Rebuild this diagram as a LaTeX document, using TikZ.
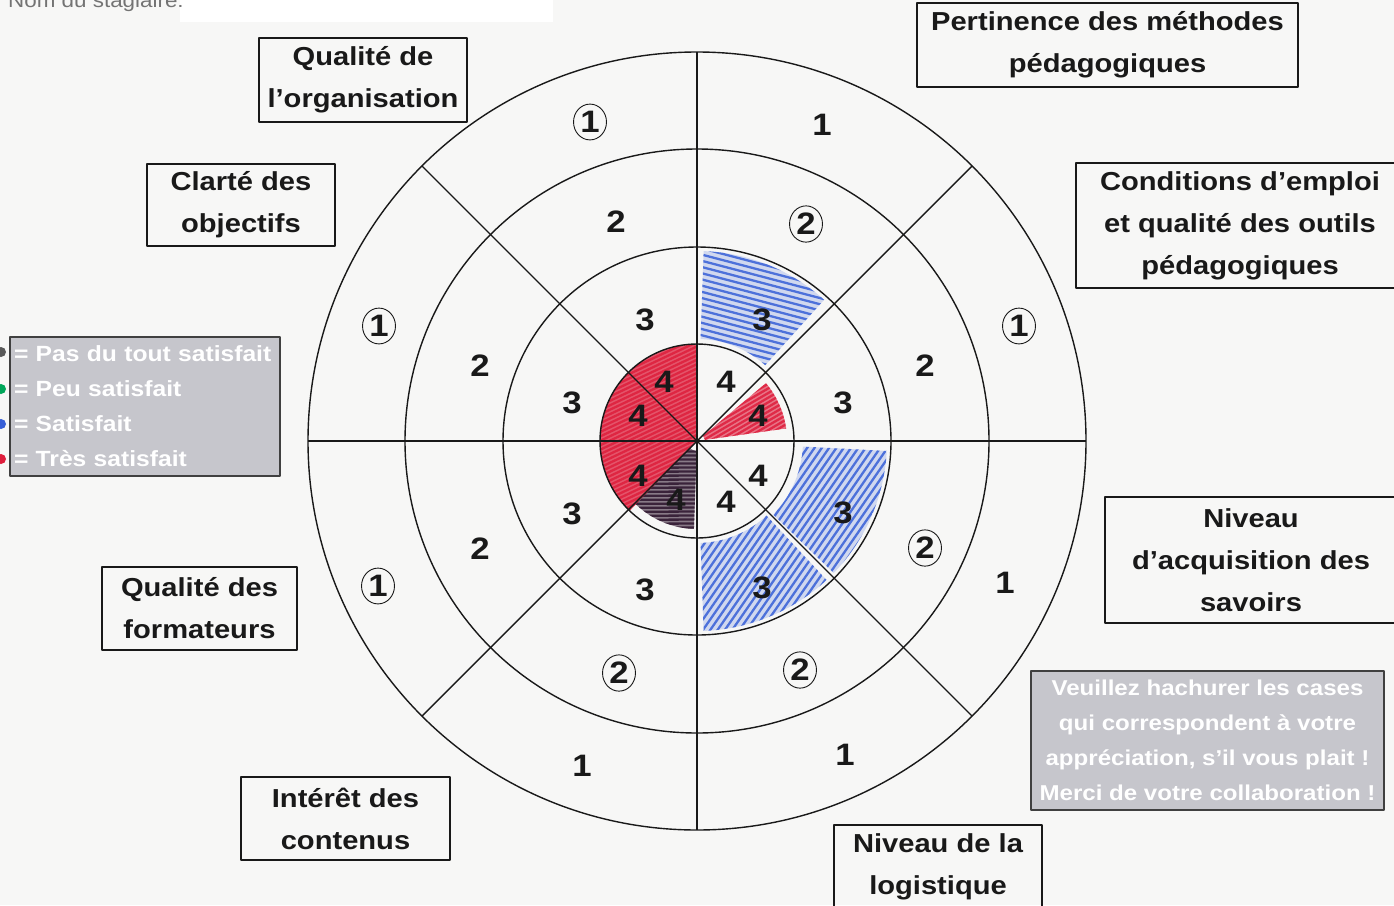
\documentclass[tikz,border=0pt]{standalone}
\usepackage{fontspec}
\usetikzlibrary{shapes.geometric}
\setmainfont{Liberation Sans}[FakeStretch=1.12]
\definecolor{bg}{RGB}{247,247,246}
\definecolor{boxgray}{RGB}{198,198,204}
\definecolor{hred}{RGB}{222,30,60}
\definecolor{hblue}{RGB}{55,95,215}
\definecolor{hdark}{RGB}{45,20,45}
\definecolor{ink}{RGB}{25,25,25}
% #1 inner r, #2 outer r, #3 start angle, #4 end angle, #5 colour, #6 stroke angle, #7 spacing, #8 fill opacity
\newcommand\hatchsec[8]{%
  \begin{scope}
    \clip (#3:#1) arc[start angle=#3,end angle=#4,radius=#1] -- (#4:#2)
          arc[start angle=#4,end angle=#3,radius=#2] -- cycle;
    \fill[#5,opacity=#8] (-400,-400) rectangle (400,400);
    \begin{scope}[rotate=#6]
      \foreach \i in {0,...,100}
        \draw[#5,line width=2.3pt,opacity=.85] (-300,{-300+\i*#7}) -- (300,{-297+\i*#7});
    \end{scope}
  \end{scope}}
\begin{document}
\begin{tikzpicture}[x=1pt,y=-1pt,line join=round,
  wheel/.style={draw=ink,line width=1.4pt},
  lab/.style={draw=ink,line width=1.3pt,align=center,text=ink,
    font=\fontsize{26}{42}\selectfont\bfseries,inner sep=0pt},
  num/.style={text=ink,font=\fontsize{31}{31}\selectfont\bfseries,inner sep=1pt},
  cnum/.style={num,draw=ink,ellipse,line width=0.9pt,inner sep=2pt},
  graybox/.style={fill=boxgray,draw=black!75,line width=1.3pt,text=white,
    font=\fontsize{22}{35}\selectfont\bfseries,inner sep=0pt}]
\fill[bg] (0,0) rectangle (1394,905);
\useasboundingbox (0,0) rectangle (1394,905);
% name field
\fill[white] (180,0) rectangle (553,22);
\node[anchor=base west,text=black!55,font=\fontsize{20}{20}\selectfont,inner sep=0pt] (nom) at (8,7) {Nom du stagiaire:};
% wheel
\begin{scope}[shift={(697,441)},y=1pt]
  \hatchsec{0.1}{97}{90}{226}{hred}{25}{4}{.75}
  \hatchsec{8}{90}{8}{40}{hred}{30}{4}{.6}
  \hatchsec{10}{88}{226}{268}{hdark}{0}{4}{.55}
  \hatchsec{102}{190}{48}{88}{hblue}{-15}{6}{.2}
  \hatchsec{106}{190}{-44}{-3}{hblue}{55}{6}{.2}
  \hatchsec{102}{190}{-88}{-47}{hblue}{55}{6}{.2}
  \draw[wheel] (0,0) circle[radius=97];
  \draw[wheel] (0,0) circle[radius=194];
  \draw[wheel] (0,0) circle[radius=292];
  \draw[wheel] (0,0) circle[radius=389];
  \foreach \a in {0,45,90,135}
    \draw[wheel] (\a:389) -- ({\a+180}:389);
\end{scope}
% ring 1
\node[cnum] (a1) at (590,122) {1};
\node[num]  (b1) at (822,125) {1};
\node[cnum] (c1) at (1019,326) {1};
\node[num]  (d1) at (1005,583) {1};
\node[num]  (e1) at (845,755) {1};
\node[num]  (f1) at (582,766) {1};
\node[cnum] (g1) at (378,586) {1};
\node[cnum] (h1) at (379,326) {1};
% ring 2
\node[num]  (a2) at (616,222) {2};
\node[cnum] (b2) at (806,224) {2};
\node[num]  (c2) at (925,366) {2};
\node[cnum] (d2) at (925,548) {2};
\node[cnum] (e2) at (800,670) {2};
\node[cnum] (f2) at (619,673) {2};
\node[num]  (g2) at (480,549) {2};
\node[num]  (h2) at (480,366) {2};
% ring 3
\node[num] (a3) at (645,320) {3};
\node[num] (b3) at (762,320) {3};
\node[num] (c3) at (843,403) {3};
\node[num] (d3) at (843,513) {3};
\node[num] (e3) at (762,588) {3};
\node[num] (f3) at (645,590) {3};
\node[num] (g3) at (572,514) {3};
\node[num] (h3) at (572,403) {3};
% ring 4
\node[num] (a4) at (664,382) {4};
\node[num] (b4) at (726,382) {4};
\node[num] (c4) at (758,416) {4};
\node[num] (d4) at (758,476) {4};
\node[num] (e4) at (726,502) {4};
\node[num] (f4) at (676,500) {4};
\node[num] (g4) at (638,476) {4};
\node[num] (h4) at (638,416) {4};
% category labels
\node[lab,minimum width=208,minimum height=84] (org) at (363,80) {Qualité de\\l’organisation};
\node[lab,minimum width=381,minimum height=84] (pert) at (1107.5,45) {Pertinence des méthodes\\pédagogiques};
\node[lab,minimum width=328,minimum height=125] (cond) at (1240,225.5) {Conditions d’emploi\\et qualité des outils\\pédagogiques};
\node[lab,minimum width=292,minimum height=126] (niv) at (1251,560) {Niveau\\d’acquisition des\\savoirs};
\node[lab,minimum width=188,minimum height=82] (clar) at (241,205) {Clarté des\\objectifs};
\node[lab,minimum width=195,minimum height=83] (form) at (199.5,608.5) {Qualité des\\formateurs};
\node[lab,minimum width=209,minimum height=83] (cont) at (345.5,818.5) {Intérêt des\\contenus};
\node[lab,minimum width=208,minimum height=84] (logi) at (938,867) {Niveau de la\\logistique};
% legend
\node[graybox,minimum width=270,minimum height=139,align=left,text width=262] (leg) at (145,406.5)
  {= Pas du tout satisfait\\= Peu satisfait\\= Satisfait\\= Très satisfait};
\fill[black!65] (1,352) circle[radius=5];
\fill[teal!70!green] (1,389) circle[radius=5];
\fill[hblue] (1,424) circle[radius=5];
\fill[hred] (1,459) circle[radius=5];
% instructions
\node[graybox,minimum width=353,minimum height=139,align=center,font=\fontsize{21.5}{35}\selectfont\bfseries] (instr) at (1207.5,740.5)
  {Veuillez hachurer les cases\\qui correspondent à votre\\appréciation, s’il vous plait !\\Merci de votre collaboration !};
\end{tikzpicture}
\end{document}
